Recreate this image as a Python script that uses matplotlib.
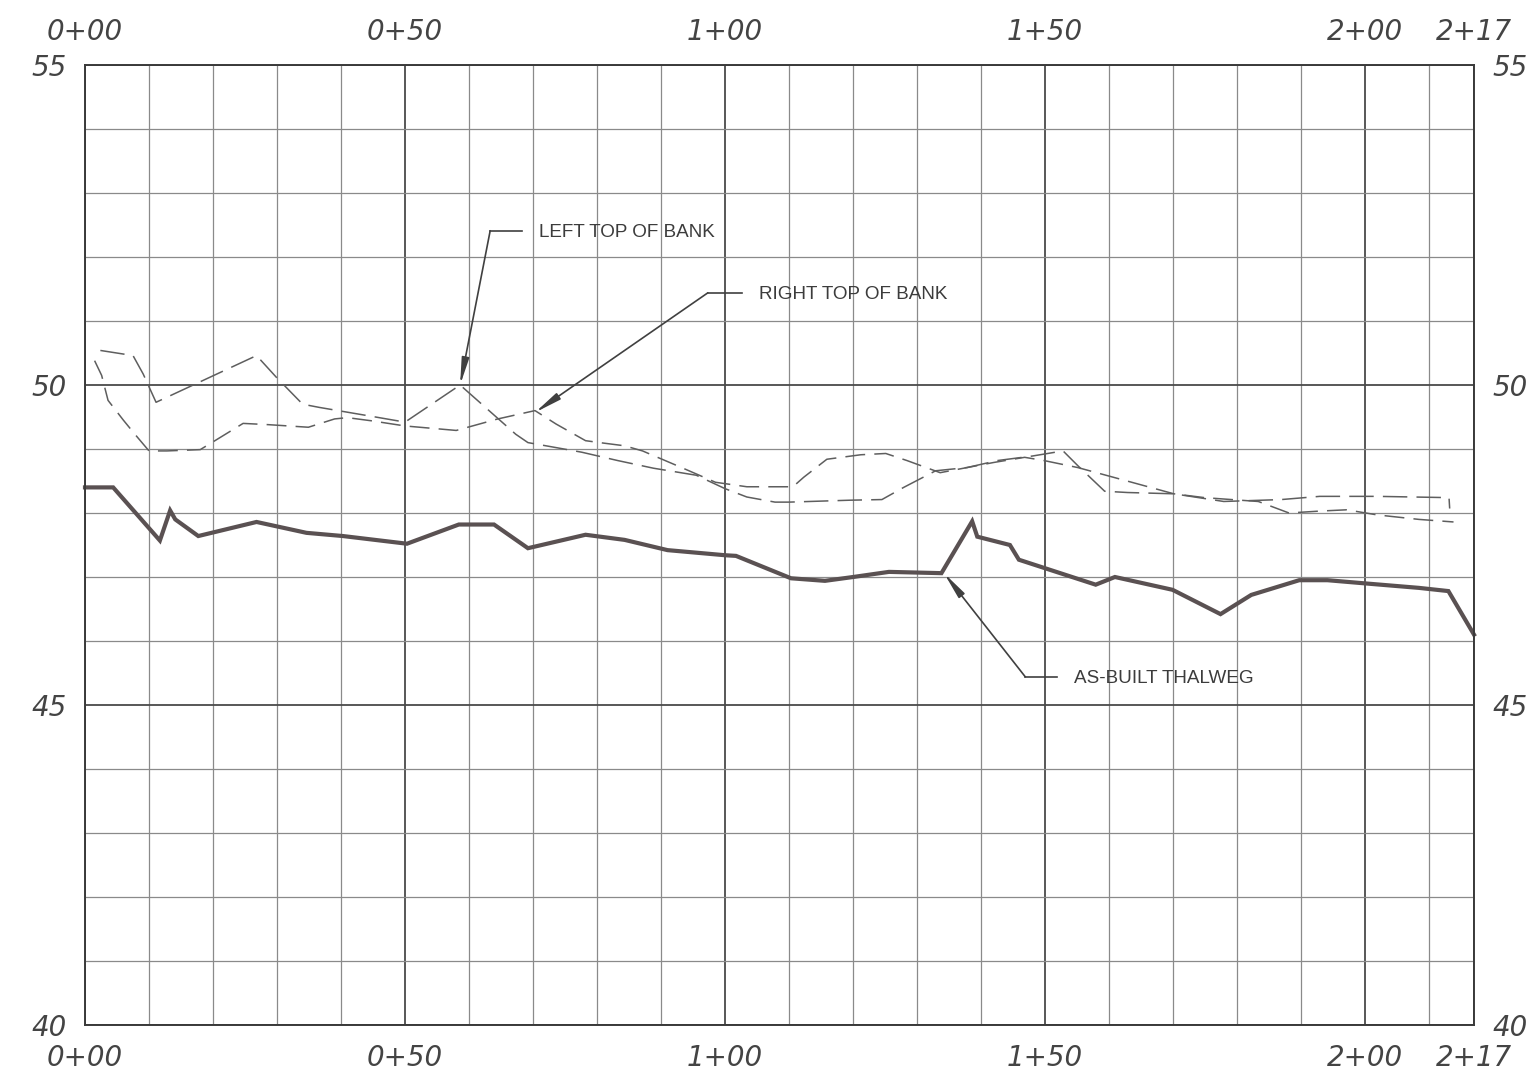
import matplotlib
matplotlib.use("Agg")
import matplotlib.pyplot as plt
from matplotlib.ticker import MultipleLocator, FixedLocator

# station (ft) / elevation (ft)
thalweg_sta = [0, 4.4, 11.7, 13.3, 14.1, 17.7, 26.8, 34.6, 40.3, 50.3, 58.4,
               63.9, 69.2, 78.2, 84.3, 91.0, 100.0, 101.7, 110.3, 115.6, 120.0,
               125.6, 133.8, 138.6, 139.4, 144.5, 145.9, 157.9, 160.9, 169.9,
               177.4, 182.2, 189.7, 194.1, 200.0, 208.4, 213.0, 217.0]
thalweg_elev = [48.40, 48.40, 47.57, 48.04, 47.90, 47.64, 47.86, 47.69, 47.64,
                47.52, 47.82, 47.82, 47.45, 47.66, 47.58, 47.42, 47.34, 47.33,
                46.98, 46.94, 47.00, 47.08, 47.06, 47.87, 47.63, 47.50, 47.27,
                46.88, 47.00, 46.80, 46.42, 46.72, 46.95, 46.95, 46.90, 46.83,
                46.78, 46.10]

left_bank_sta = [2.4, 7.5, 9.1, 11.1, 26.8, 29.9, 34.0, 36.6, 44.8, 50.0, 58.6,
                 67.3, 69.2, 73.7, 77.6, 83.2, 88.8, 95.5, 100.0, 103.4, 107.8,
                 110.0, 119.5, 124.5, 127.9, 132.9, 137.8, 142.6, 148.0, 152.8,
                 155.1, 159.3, 162.9, 170.1, 177.9, 186.9, 192.9, 201.9, 213.1,
                 213.2]
left_bank_elev = [50.54, 50.46, 50.17, 49.73, 50.46, 50.12, 49.70, 49.65, 49.51,
                  49.42, 50.00, 49.23, 49.10, 49.02, 48.95, 48.82, 48.70, 48.59,
                  48.38, 48.25, 48.17, 48.17, 48.20, 48.21, 48.40, 48.66, 48.71,
                  48.82, 48.89, 48.97, 48.74, 48.34, 48.32, 48.30, 48.18, 48.21,
                  48.26, 48.26, 48.24, 48.07]

right_bank_sta = [1.5, 2.6, 3.6, 6.0, 7.8, 10.0, 12.8, 18.0, 20.3, 24.7, 28.7,
                  34.9, 39.0, 41.0, 44.8, 50.0, 58.0, 64.5, 70.3, 73.6, 78.2,
                  80.4, 84.3, 87.1, 93.2, 98.5, 103.4, 110.6, 112.3, 115.9,
                  121.2, 125.1, 128.4, 133.6, 142.0, 146.8, 149.8, 155.1, 161.7,
                  170.1, 174.9, 183.3, 188.1, 192.9, 197.1, 201.9, 208.4, 213.8]
right_bank_elev = [50.38, 50.15, 49.76, 49.45, 49.23, 48.97, 48.97, 48.99,
                   49.13, 49.40, 49.38, 49.34, 49.47, 49.49, 49.44, 49.36, 49.29,
                   49.47, 49.60, 49.39, 49.13, 49.10, 49.05, 48.97, 48.71, 48.48,
                   48.41, 48.41, 48.56, 48.84, 48.91, 48.93, 48.82, 48.63, 48.79,
                   48.87, 48.82, 48.71, 48.53, 48.30, 48.24, 48.18, 48.00, 48.03,
                   48.05, 47.97, 47.90, 47.86]

station_ticks = [0, 50, 100, 150, 200, 217]
station_labels = ["0+00", "0+50", "1+00", "1+50", "2+00", "2+17"]
elev_ticks = [40, 45, 50, 55]

# callouts: (text, arrow tip, elbow, end of horizontal leader)
callouts = [
    ("LEFT TOP OF BANK", (58.6, 50.0), (63.3, 52.41), 68.3),
    ("RIGHT TOP OF BANK", (70.3, 49.57), (97.3, 51.44), 102.7),
    ("AS-BUILT THALWEG", (134.2, 47.06), (146.9, 45.44), 151.9),
]

fig = plt.figure(figsize=(15.36, 10.84), dpi=100)
ax = fig.add_axes([85 / 1536, 1 - 1025 / 1084, (1474 - 85) / 1536, (1025 - 65) / 1084])

ax.set_xlim(0, 217)
ax.set_ylim(40, 55)

# drafting grid: light every 10 ft / 1 ft, heavier every 50 ft / 5 ft
ax.xaxis.set_major_locator(FixedLocator(station_ticks))
ax.yaxis.set_major_locator(FixedLocator(elev_ticks))
ax.xaxis.set_minor_locator(MultipleLocator(10))
ax.yaxis.set_minor_locator(MultipleLocator(1))
ax.grid(which="minor", color="#8a8a8a", lw=0.9)
ax.grid(which="major", color="#4a4a4a", lw=1.3)
ax.set_axisbelow(True)
for s in ax.spines.values():
    s.set_color("#3a3a3a")
    s.set_linewidth(1.4)

ax.set_xticklabels(station_labels)
ax.tick_params(which="both", length=0, colors="#444444")
ax.tick_params(axis="x", labeltop=True, labelbottom=True, pad=14)
ax.tick_params(axis="y", labelleft=True, labelright=True, pad=13)
for t in ax.xaxis.get_major_ticks() + ax.yaxis.get_major_ticks():
    for lab in (t.label1, t.label2):
        lab.set_fontfamily("DejaVu Sans")
        lab.set_fontstyle("italic")
        lab.set_fontsize(20)

ln, = ax.plot(left_bank_sta, left_bank_elev, color="#5e5e5e", lw=1.1)
ln.set_dashes([16, 6])
rn, = ax.plot(right_bank_sta, right_bank_elev, color="#5e5e5e", lw=1.1)
rn.set_dashes([13, 6])
ax.plot(thalweg_sta, thalweg_elev, color="#5a5152", lw=3.0,
        solid_joinstyle="miter", clip_on=False)

for text, tip, elbow, end_x in callouts:
    ax.annotate("", xy=tip, xytext=elbow,
                arrowprops=dict(arrowstyle="-|>,head_length=1.6,head_width=0.22",
                                color="#404040", lw=1.2, shrinkA=0, shrinkB=0))
    ax.plot([elbow[0], end_x], [elbow[1], elbow[1]], color="#404040", lw=1.2)
    ax.text(end_x + 2.6, elbow[1], text, fontsize=13.6, family="Liberation Sans",
            color="#3c3c3c", va="center_baseline", ha="left")

fig.savefig("out.png", dpi=100, facecolor="white")
